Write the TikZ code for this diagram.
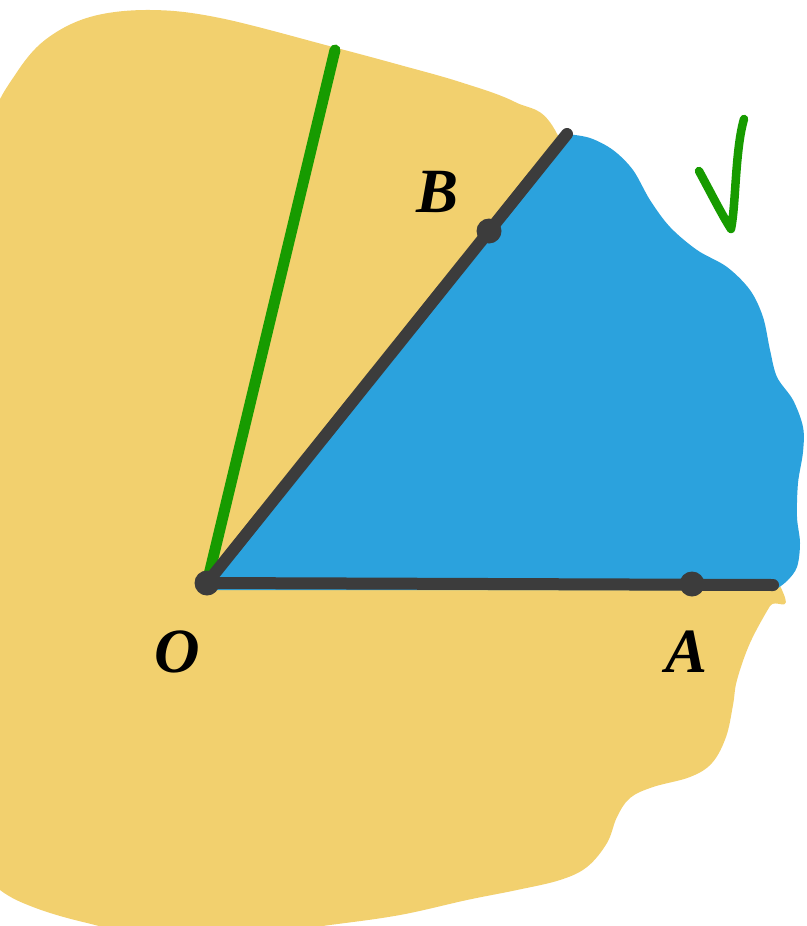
\documentclass[tikz,border=0pt]{standalone}
\usepackage{fontspec}
\setmainfont{Liberation Serif}
\definecolor{sand}{HTML}{F2D06E}
\definecolor{sky}{HTML}{2BA2DD}
\definecolor{ink}{HTML}{3C3C3C}
\definecolor{leaf}{HTML}{179B00}
\tikzset{
  ray/.style={draw=ink, line width=12pt, line cap=round},
  greenray/.style={draw=leaf, line width=11pt, line cap=round},
  dot/.style={circle, fill=ink, inner sep=0pt, minimum size=25pt},
  lab/.style={font=\fontsize{63}{63}\selectfont\bfseries\itshape, inner sep=0pt, text=black},
}
\begin{document}
\begin{tikzpicture}[x=1pt,y=-1pt]
\useasboundingbox (0,0) rectangle (806,926);
\begin{scope}
\clip (0,0) rectangle (806,926);
% yellow region
\fill[sand] plot[smooth cycle, tension=0.6] coordinates {
  (-20,200) (-8,120) (15,75) (45,40) (90,17) (150,10) (220,18) (333,47)
  (400,65) (460,82) (515,102) (555,130) (600,250) (700,450) (782,590)
  (770,606) (750,643) (737,680) (733,705) (726,737) (712,763) (690,777)
  (653,787) (630,798) (617,817) (607,843) (587,867) (560,880) (517,890)
  (467,900) (400,915) (330,925) (250,935) (150,935) (83,922) (33,907)
  (0,890) (-30,860) (-30,500)};
\end{scope}
% points
\coordinate (O) at (207,583);
\coordinate (A) at (692,584);
\coordinate (B) at (489,231);
\coordinate (Aend) at (773,585);
\coordinate (Bend) at (567,134);
\coordinate (G) at (335,50);
% blue sector
\fill[sky] (O) -- (Bend) -- plot[smooth, tension=0.55] coordinates {
  (567,134) (590,138) (613,150) (633,170) (650,200) (670,227) (697,250)
  (727,267) (750,290) (763,317) (770,350) (777,377) (793,400) (803,427)
  (803,452) (798,483) (797,517) (800,543) (797,567) (787,581) (775,590)}
  -- (207,590) -- cycle;
% rays
\draw[greenray] (O) -- (G);
\draw[ray] (O) -- (Aend);
\draw[ray] (O) -- (Bend);
\node[dot] (Odot) at (O) {};
\node[dot] (Adot) at (A) {};
\node[dot] (Bdot) at (B) {};
% labels
\node[lab] (Olab) at (177,652) {O};
\node[lab] (Alab) at (687,652) {A};
\node[lab] (Blab) at (438,192) {B};
% check mark
\draw[leaf, line width=8.5pt, line cap=round, line join=round]
  (699,171) .. controls (712,195) and (722,215) .. (731,229)
  .. controls (736,205) and (735,150) .. (744,119);
\end{tikzpicture}
\end{document}
